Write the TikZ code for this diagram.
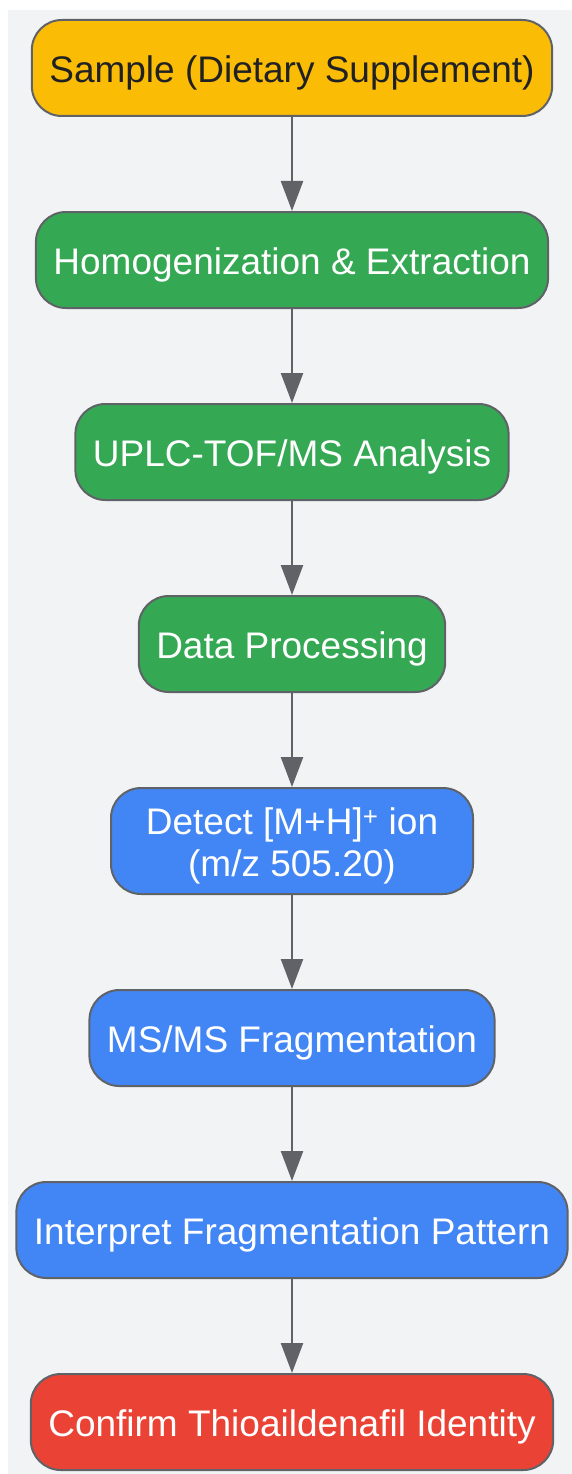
\documentclass[tikz,border=0pt]{standalone}
\usepackage{fontspec}
\setmainfont{Liberation Sans}
\usepackage{xcolor}
\usepackage{tikz}
\usetikzlibrary{shapes}
\usetikzlibrary{arrows.meta}
\usetikzlibrary{positioning}
\definecolor{bggray}{HTML}{F1F3F4}
\definecolor{edgegray}{HTML}{5F6368}
\definecolor{darktext}{HTML}{202124}
\definecolor{gyellow}{HTML}{FBBC05}
\definecolor{ggreen}{HTML}{34A853}
\definecolor{gblue}{HTML}{4285F4}
\definecolor{gred}{HTML}{EA4335}
\tikzset{
  stepbox/.style={draw=edgegray, line width=2pt, rounded corners=30pt, minimum height=96pt,
    inner xsep=17.5pt, text height=29pt, text depth=0pt, align=center, text=white,
    font=\fontsize{37}{42}\selectfont},
  flow/.style={draw=edgegray, line width=2.4pt, -{Triangle[length=30pt,width=22pt]}, edgegray}
}

\begin{document}
\begin{tikzpicture}[x=1pt,y=-1pt, node distance=94pt]
  \useasboundingbox (0,0) rectangle (572,1474);
  \fill[bggray] (8,10) rectangle (572,1474);
  \node[stepbox, fill=gyellow, text=darktext] (sample) at (292,68) {Sample (Dietary Supplement)};
  \node[stepbox, fill=ggreen, below=of sample] (extract) {Homogenization \& Extraction};
  \node[stepbox, fill=ggreen, below=of extract] (uplc) {UPLC-TOF/MS Analysis};
  \node[stepbox, fill=ggreen, below=of uplc] (proc) {Data Processing};
  \node[stepbox, fill=gblue, minimum height=106pt, minimum width=362pt, text height=71pt, below=of proc] (detect) {Detect [M+H]\textsuperscript{+} ion\\(m/z 505.20)};
  \node[stepbox, fill=gblue, below=of detect] (msms) {MS/MS Fragmentation};
  \node[stepbox, fill=gblue, below=of msms] (interp) {Interpret Fragmentation Pattern};
  \node[stepbox, fill=gred, below=of interp] (confirm) {Confirm Thioaildenafil Identity};
  \foreach \a/\b in {sample/extract, extract/uplc, uplc/proc, proc/detect, detect/msms, msms/interp, interp/confirm}
    \draw[flow] (\a) -- (\b);
\end{tikzpicture}
\end{document}
